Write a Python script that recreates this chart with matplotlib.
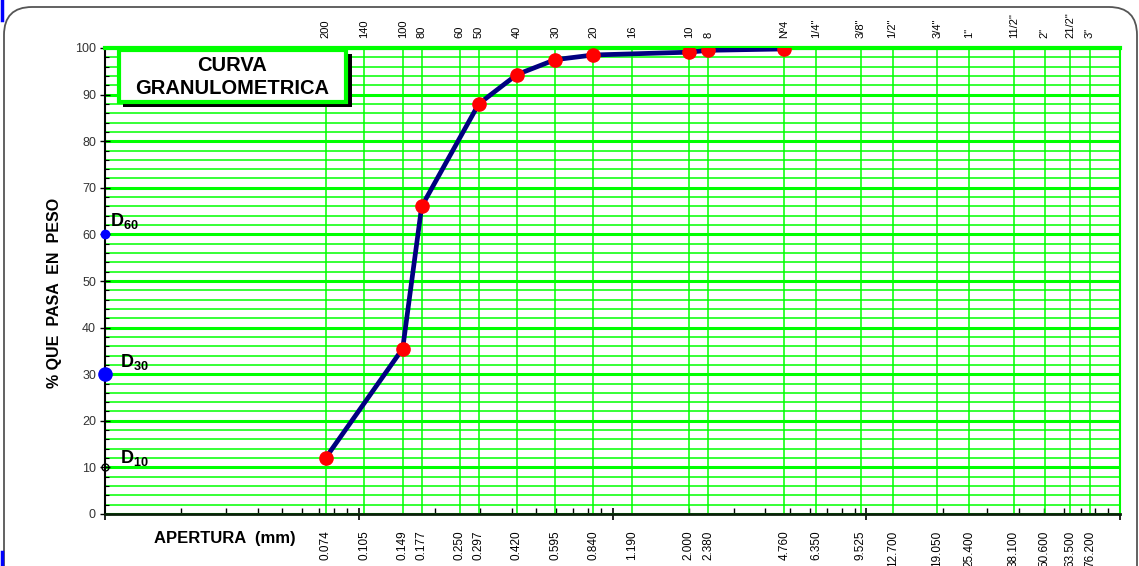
import matplotlib
matplotlib.use('Agg')
import matplotlib.pyplot as plt
from matplotlib.patches import FancyBboxPatch, Rectangle
from matplotlib.lines import Line2D
from matplotlib.ticker import LogLocator, NullFormatter, MultipleLocator, FixedLocator
from matplotlib.transforms import IdentityTransform

plt.rcParams['font.family'] = ['Liberation Sans', 'DejaVu Sans']
plt.rcParams['mathtext.fontset'] = 'custom'
plt.rcParams['mathtext.bf'] = 'Liberation Sans:bold'
plt.rcParams['mathtext.rm'] = 'Liberation Sans'

# abertura de cada tamiz (mm) y su designacion
aperturas = [0.074, 0.105, 0.149, 0.177, 0.250, 0.297, 0.420, 0.595, 0.840, 1.190,
             2.000, 2.380, 4.760, 6.350, 9.525, 12.700, 19.050, 25.400, 38.100,
             50.600, 63.500, 76.200]
tamices = ['200', '140', '100', '80', '60', '50', '40', '30', '20', '16', '10', '8',
           'Nº4', '1/4"', '3/8"', '1/2"', '3/4"', '1"', '11/2"', '2"', '21/2"', '3"']

# ensayo: abertura (mm) y % que pasa
abertura_ensayo = [0.074, 0.149, 0.177, 0.297, 0.420, 0.595, 0.840, 2.000, 2.380, 4.760]
pasa = [12.0, 35.5, 66.0, 88.0, 94.3, 97.5, 98.5, 99.1, 99.5, 99.8]

W, H = 1139, 566
fig = plt.figure(figsize=(W / 100, H / 100), dpi=100)
fig.patch.set_facecolor('white')

verde = '#00ff00'

ax = fig.add_axes([105 / W, 52 / H, 1015 / W, 466 / H])
ax.set_xscale('log')
ax.set_xlim(0.01, 100)
ax.set_ylim(0, 100)
ax.set_axisbelow(True)

# cuadricula
ax.yaxis.set_major_locator(MultipleLocator(10))
ax.yaxis.set_minor_locator(MultipleLocator(2))
ax.grid(which='major', axis='y', color=verde, lw=2.2)
ax.grid(which='minor', axis='y', color=verde, lw=1.1)
ax.vlines(aperturas, 0, 100, color=verde, lw=1.1, zorder=0.8)

ax.xaxis.set_major_locator(LogLocator(base=10))
ax.xaxis.set_minor_locator(LogLocator(base=10, subs=range(2, 10)))
ax.xaxis.set_major_formatter(NullFormatter())
ax.xaxis.set_minor_formatter(NullFormatter())
ax.tick_params(axis='x', which='major', direction='inout', length=9, width=1.2, color='black')
ax.tick_params(axis='x', which='minor', direction='in', length=4, width=1, color='black')
ax.tick_params(axis='y', which='major', direction='inout', length=7, width=1, labelsize=9,
               labelcolor='#333333', pad=3)
ax.tick_params(axis='y', which='minor', direction='in', length=3, width=0.8)

ax.spines['top'].set_color(verde)
ax.spines['top'].set_linewidth(3)
ax.spines['right'].set_color(verde)
ax.spines['right'].set_linewidth(1.5)
ax.spines['left'].set_color('black')
ax.spines['left'].set_linewidth(1.5)
ax.spines['bottom'].set_color('#0a200a')
ax.spines['bottom'].set_linewidth(2)

# numero de tamiz arriba
top = ax.secondary_xaxis('top')
top.xaxis.set_major_locator(FixedLocator(aperturas))
top.xaxis.set_minor_locator(FixedLocator([]))
top.set_xticklabels(tamices, rotation=90, fontsize=8)
top.tick_params(length=0, pad=7)
top.spines['top'].set_visible(False)

# abertura abajo
bot = ax.secondary_xaxis('bottom')
bot.xaxis.set_major_locator(FixedLocator(aperturas))
bot.xaxis.set_minor_locator(FixedLocator([]))
bot.set_xticklabels(['%.3f' % a for a in aperturas], rotation=90, fontsize=8.5)
bot.tick_params(length=0, pad=12)
bot.spines['bottom'].set_visible(False)

# curva granulometrica
ax.plot(abertura_ensayo, pasa, color='#000080', lw=3.4, zorder=3,
        marker='o', ms=9.5, mfc='red', mec='red', solid_capstyle='round')

# D10, D30, D60
ax.plot([0.01], [60], 'o', color='blue', ms=6, clip_on=False, zorder=4)
ax.plot([0.01], [30], 'o', color='blue', ms=9.5, clip_on=False, zorder=4)
ax.plot([0.01], [10], 'o', mfc='none', mec='black', ms=5, mew=1, clip_on=False, zorder=4)
ax.text(0.0105, 61.7, r'$\mathbf{D_{60}}$', fontsize=13, va='baseline')
ax.text(0.0115, 31.6, r'$\mathbf{D_{30}}$', fontsize=13, va='baseline')
ax.text(0.0115, 11.0, r'$\mathbf{D_{10}}$', fontsize=13, va='baseline')

fig.text(55 / W, 1 - 293 / H, '% QUE  PASA  EN  PESO', rotation=90, fontsize=11.5,
         fontweight='bold', ha='center', va='center')
fig.text(225 / W, 1 - 539 / H, 'APERTURA  (mm)', fontsize=12, fontweight='bold',
         ha='center', va='center')

# recuadro del titulo con sombra
px = IdentityTransform()
fig.add_artist(Rectangle((123, H - 107), 229, 53, facecolor='black', edgecolor='none',
                         transform=px, zorder=5))
fig.add_artist(Rectangle((119, H - 102), 227, 52, facecolor='white', edgecolor=verde,
                         lw=3, transform=px, zorder=6))
fig.text(232 / W, 1 - 66 / H, 'CURVA', fontsize=14.5, fontweight='bold',
         ha='center', va='center', zorder=7)
fig.text(232 / W, 1 - 89 / H, 'GRANULOMETRICA', fontsize=14.5, fontweight='bold',
         ha='center', va='center', zorder=7)

# marco del grafico
fig.add_artist(FancyBboxPatch((4, -60), 1133, H - 7 + 60,
                              boxstyle='round,pad=0,rounding_size=28',
                              facecolor='none', edgecolor='#555555', lw=1.3,
                              transform=px, zorder=10))
fig.add_artist(Line2D([2, 2], [H, H - 20], color='blue', lw=2.5, transform=px, zorder=11))
fig.add_artist(Line2D([2, 2], [0, 14], color='blue', lw=2.5, transform=px, zorder=11))

fig.savefig('out.png', dpi=100)
